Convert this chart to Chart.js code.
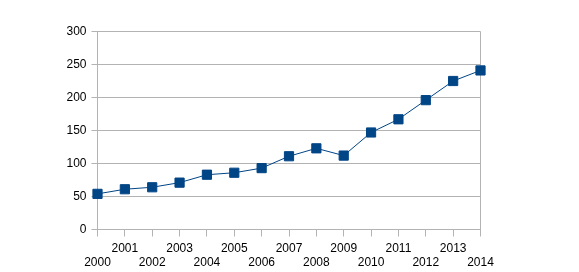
<!DOCTYPE html>
<html>
<head>
<meta charset="utf-8">
<script src="https://cdn.jsdelivr.net/npm/chart.js@4"></script>
<style>
  body { margin: 0; background: #fff; }
  canvas { display: block; }
</style>
</head>
<body>
<!-- a figura original corta a segunda linha de rótulos por volta de y=267 -->
<canvas id="chart" width="579" height="267"></canvas>
<script>
// anos e valores
const anos = ['2000', '2001', '2002', '2003', '2004', '2005', '2006', '2007',
              '2008', '2009', '2010', '2011', '2012', '2013', '2014'];
const valores = [54, 61, 64, 71, 83, 86, 93, 111, 123, 112, 147, 167, 196, 225, 241];
const yTicks = [0, 50, 100, 150, 200, 250, 300];

const cinza = '#b3b3b3';
const azul = '#004586';
const fonte = { family: 'Liberation Sans, Arial, sans-serif', size: 12, lineHeight: 14 / 12 };

const ctx = document.getElementById('chart').getContext('2d');
new Chart(ctx, {
    type: 'line',
    data: {
        labels: anos,
        datasets: [{
            data: valores,
            borderColor: azul,
            borderWidth: 1,
            backgroundColor: azul,
            pointStyle: 'rect',
            pointRadius: 6.5,
            pointBorderWidth: 1,
            pointBorderColor: azul,
            tension: 0
        }]
    },
    options: {
        responsive: false,
        animation: false,
        layout: { padding: { left: 0, right: 98.5, top: 31.5, bottom: 0 } },
        plugins: { legend: { display: false }, tooltip: { enabled: false } },
        scales: {
            x: {
                offset: false,
                afterFit: (s) => { s.height = 37.5; },
                border: { color: cinza },
                grid: {
                    drawOnChartArea: true,
                    // só a última linha (borda direita) aparece dentro da área
                    color: (c) => c.index === anos.length - 1 ? cinza : 'rgba(0,0,0,0)',
                    tickColor: cinza,
                    tickLength: 7
                },
                ticks: {
                    autoSkip: false,
                    maxRotation: 0,
                    minRotation: 0,
                    padding: 5.5,
                    color: '#000',
                    font: fonte,
                    // anos pares na linha de baixo, ímpares em cima
                    callback: (v, i) => i % 2 === 0 ? ['', anos[i]] : anos[i]
                }
            },
            y: {
                min: yTicks[0],
                max: yTicks[yTicks.length - 1],
                afterFit: (s) => { s.width = 97.5; },
                afterBuildTicks: (s) => { s.ticks = yTicks.map(v => ({ value: v })); },
                border: { color: cinza },
                grid: { color: cinza, tickLength: 6 },
                ticks: { padding: 5, color: '#000', font: fonte }
            }
        }
    }
});
</script>
</body>
</html>
